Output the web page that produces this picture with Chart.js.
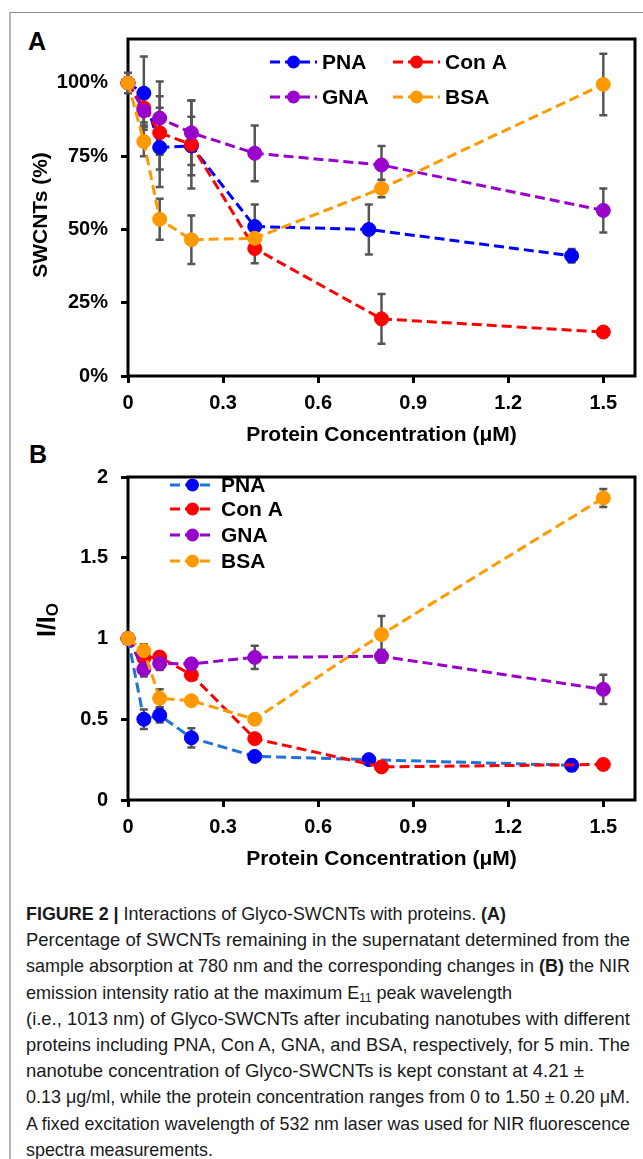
<!DOCTYPE html>
<html>
<head>
<meta charset="utf-8">
<title>Glyco-SWCNTs with proteins</title>
<script src="https://cdn.jsdelivr.net/npm/chart.js@4.4.1/dist/chart.umd.min.js"></script>
<style>
  html, body { margin: 0; padding: 0; background: #fff; }
  body { width: 643px; height: 1159px; position: relative; overflow: hidden; font-family: 'Liberation Sans', Arial, sans-serif; }
  .frame { position: absolute; left: 9px; top: 12px; width: 640px; height: 1160px; border-left: 2px solid #b4b4b4; border-top: 1px solid #8c8c8c; }
  .panel-label { position: absolute; font-weight: bold; font-size: 25px; line-height: 25px; color: #000; }
  #wrapA { position: absolute; left: 0; top: 0; width: 643px; height: 452px; }
  #wrapB { position: absolute; left: 0; top: 452px; width: 643px; height: 424px; }
  .caption { position: absolute; left: 26px; top: 901px; width: 604px; font-size: 18.5px; line-height: 26.2px; color: #1a1a1a; }
  .caption .ln { white-space: nowrap; height: 26.2px; transform-origin: 0 50%; }
  .caption b { font-weight: bold; }
  sub { font-size: 12px; line-height: 0; vertical-align: -3px; }
</style>
</head>
<body>
<div class="frame"></div>
<div class="panel-label" style="left:28px; top:29px;">A</div>
<div class="panel-label" style="left:29px; top:442px;">B</div>
<div id="wrapA"><canvas id="chartA"></canvas></div>
<div id="wrapB"><canvas id="chartB"></canvas></div>

<div class="caption">
  <div class="ln" data-w="480"><span><b>FIGURE 2 |</b> Interactions of Glyco-SWCNTs with proteins. <b>(A)</b></span></div>
  <div class="ln" data-w="604" data-j="1"><span>Percentage of SWCNTs remaining in the supernatant determined from the</span></div>
  <div class="ln" data-w="604" data-j="1"><span>sample absorption at 780 nm and the corresponding changes in <b>(B)</b> the NIR</span></div>
  <div class="ln" data-w="486"><span>emission intensity ratio at the maximum E<sub>11</sub> peak wavelength</span></div>
  <div class="ln" data-w="604" data-j="1"><span>(i.e., 1013 nm) of Glyco-SWCNTs after incubating nanotubes with different</span></div>
  <div class="ln" data-w="604" data-j="1"><span>proteins including PNA, Con A, GNA, and BSA, respectively, for 5 min. The</span></div>
  <div class="ln" data-w="558"><span>nanotube concentration of Glyco-SWCNTs is kept constant at 4.21 ±</span></div>
  <div class="ln" data-w="604" data-j="1"><span>0.13 μg/ml, while the protein concentration ranges from 0 to 1.50 ± 0.20 μM.</span></div>
  <div class="ln" data-w="604" data-j="1"><span>A fixed excitation wavelength of 532 nm laser was used for NIR fluorescence</span></div>
  <div class="ln" data-w="187"><span>spectra measurements.</span></div>
</div>

<script>
// protein concentration (µM); PNA was measured at slightly different points
const conc = [0, 0.05, 0.1, 0.2, 0.4, 0.8, 1.5];
const concPNA = [0, 0.05, 0.1, 0.2, 0.4, 0.76, 1.4];

const seriesNames = ['PNA', 'Con A', 'GNA', 'BSA'];

// panel A: SWCNTs remaining in supernatant (%)
const swcntPNA = [100, 96.5, 78, 78.5, 51, 50, 41];
const swcntConA = [100, 91.5, 83, 79, 43.5, 19.5, 15];
const swcntGNA = [100, 90.5, 88, 83, 76, 72, 56.5];
const swcntBSA = [100, 80, 53.5, 46.5, 47, 64, 99.5];
const swcntErrPNA = [3.5, 12.5, 13.5, 10, 7.5, 8.5, 2.3];
const swcntErrConA = [0, 5, 12.5, 15, 5, 8.5, 0];
const swcntErrGNA = [0, 5, 12.5, 11, 9.5, 6.5, 7.5];
const swcntErrBSA = [0, 5, 7, 8.3, 4, 3, 10.5];

// panel B: NIR emission intensity ratio I/Io
const ratioPNA = [1, 0.50, 0.525, 0.385, 0.27, 0.25, 0.215];
const ratioConA = [1, 0.88, 0.885, 0.775, 0.38, 0.205, 0.22];
const ratioGNA = [1, 0.81, 0.845, 0.843, 0.883, 0.89, 0.685];
const ratioBSA = [1, 0.925, 0.63, 0.615, 0.50, 1.025, 1.87];
const ratioErrPNA = [0, 0.06, 0.045, 0.06, 0.02, 0.02, 0.035];
const ratioErrConA = [0, 0.03, 0.03, 0.03, 0.02, 0.02, 0.02];
const ratioErrGNA = [0, 0.045, 0.04, 0.02, 0.072, 0.04, 0.09];
const ratioErrBSA = [0, 0.04, 0.055, 0.02, 0.02, 0.115, 0.055];

const markerColors = ['#0000FF', '#FF0000', '#9900CC', '#FF9900'];
const lineColorsA = ['#0000FF', '#FF0000', '#9900CC', '#FF9900'];
const lineColorsB = ['#1F72D6', '#FF0000', '#9900CC', '#FF9900'];

const FAMILY = "'Liberation Sans', Arial, sans-serif";
Chart.defaults.font.family = FAMILY;
Chart.defaults.color = '#000';

// black box around the plot area
const plotFrame = {
    id: 'plotFrame',
    beforeDatasetsDraw(chart) {
        const {ctx, chartArea: a} = chart;
        ctx.save();
        ctx.strokeStyle = '#000';
        ctx.lineWidth = 3;
        ctx.strokeRect(a.left, a.top, a.right - a.left, a.bottom - a.top);
        ctx.restore();
    }
};

// vertical error bars with caps, drawn under the markers
const errorBars = {
    id: 'errorBars',
    beforeDatasetsDraw(chart) {
        const {ctx, scales: {x, y}} = chart;
        ctx.save();
        ctx.strokeStyle = '#555';
        ctx.lineWidth = 2.5;
        chart.data.datasets.forEach(ds => {
            ds.data.forEach((p, i) => {
                const e = ds.errorBars[i];
                if (!e) return;
                const px = x.getPixelForValue(p.x);
                const top = y.getPixelForValue(p.y + e);
                const bot = y.getPixelForValue(p.y - e);
                ctx.beginPath();
                ctx.moveTo(px, top); ctx.lineTo(px, bot);
                ctx.moveTo(px - 4, top); ctx.lineTo(px + 4, top);
                ctx.moveTo(px - 4, bot); ctx.lineTo(px + 4, bot);
                ctx.stroke();
            });
        });
        ctx.restore();
    }
};

// legend entries as dashed line + marker, like the spreadsheet legend
const lineLegend = {
    id: 'lineLegend',
    afterDatasetsDraw(chart, args, opts) {
        const {ctx} = chart;
        ctx.save();
        chart.data.datasets.forEach((ds, i) => {
            const it = opts.items[i];
            ctx.setLineDash(ds.borderDash);
            ctx.lineWidth = ds.borderWidth;
            ctx.strokeStyle = ds.borderColor;
            ctx.beginPath();
            ctx.moveTo(it.x, it.y);
            ctx.lineTo(it.x + opts.sample, it.y);
            ctx.stroke();
            ctx.setLineDash([]);
            ctx.fillStyle = ds.pointBackgroundColor;
            ctx.beginPath();
            ctx.arc(it.x + opts.sample / 2, it.y, 6.5, 0, Math.PI * 2);
            ctx.fill();
            ctx.fillStyle = '#000';
            ctx.font = 'bold 21px ' + FAMILY;
            ctx.textAlign = 'left';
            ctx.textBaseline = 'middle';
            ctx.fillText(ds.label, it.x + opts.sample + opts.gap, it.y + 1);
        });
        ctx.restore();
    }
};

// rotated y title, with an optional subscript part
const sideTitle = {
    id: 'sideTitle',
    afterDraw(chart, args, o) {
        const {ctx} = chart;
        const main = 'bold ' + o.size + 'px ' + FAMILY;
        const small = 'bold ' + (o.subSize || o.size) + 'px ' + FAMILY;
        ctx.save();
        ctx.translate(o.x, o.y);
        ctx.rotate(-Math.PI / 2);
        ctx.fillStyle = '#000';
        ctx.textBaseline = 'middle';
        ctx.textAlign = 'left';
        ctx.font = main;
        const w1 = ctx.measureText(o.text).width;
        let w2 = 0;
        if (o.sub) {
            ctx.font = small;
            w2 = ctx.measureText(o.sub).width;
        }
        const start = -(w1 + w2) / 2;
        ctx.font = main;
        ctx.fillText(o.text, start, 0);
        if (o.sub) {
            ctx.font = small;
            ctx.fillText(o.sub, start + w1, o.subShift);
        }
        ctx.restore();
    }
};

function makeSets(values, errors, lineColors) {
    return seriesNames.map((name, k) => {
        const xs = k === 0 ? concPNA : conc;
        return {
            label: name,
            data: xs.map((x, i) => ({x: x, y: values[k][i]})),
            errorBars: errors[k],
            borderColor: lineColors[k],
            backgroundColor: markerColors[k],
            pointBackgroundColor: markerColors[k],
            pointBorderColor: markerColors[k],
            pointRadius: 7,
            pointHoverRadius: 7,
            pointBorderWidth: 1,
            borderWidth: 3,
            borderDash: [10, 5],
            tension: 0,
            fill: false,
            clip: false,
            order: seriesNames.length - k
        };
    });
}

function xAxis() {
    return {
        type: 'linear',
        min: 0,
        max: 1.6,
        ticks: {
            stepSize: 0.3,
            includeBounds: false,
            padding: 8,
            maxRotation: 0,
            autoSkip: false,
            font: {size: 20, weight: 'bold'},
            callback: v => String(+v.toFixed(1))
        },
        grid: {drawOnChartArea: false, drawTicks: true, tickLength: 7, tickWidth: 3, tickColor: '#000'},
        border: {display: false},
        title: {
            display: true,
            text: 'Protein Concentration (μM)',
            font: {size: 21, weight: 'bold'},
            padding: {top: 0, bottom: 4}
        },
        afterFit: s => { s.height = 76; }
    };
}

function yAxis(max, step, fmt) {
    return {
        type: 'linear',
        min: 0,
        max: max,
        ticks: {
            stepSize: step,
            includeBounds: false,
            padding: 13,
            font: {size: 20, weight: 'bold'},
            callback: fmt
        },
        grid: {drawOnChartArea: false, drawTicks: true, tickLength: 7, tickWidth: 3, tickColor: '#000'},
        border: {display: false},
        afterFit: s => { s.width = 128; }
    };
}

function buildChart(id, datasets, yScale, pad, legendOpts, titleOpts) {
    return new Chart(document.getElementById(id), {
        type: 'line',
        data: {datasets: datasets},
        options: {
            responsive: true,
            maintainAspectRatio: false,
            animation: false,
            events: [],
            layout: {padding: pad},
            scales: {x: xAxis(), y: yScale},
            plugins: {
                legend: {display: false},
                tooltip: {enabled: false},
                lineLegend: legendOpts,
                sideTitle: titleOpts
            }
        },
        plugins: [plotFrame, errorBars, lineLegend, sideTitle]
    });
}

buildChart('chartA',
    makeSets([swcntPNA, swcntConA, swcntGNA, swcntBSA],
             [swcntErrPNA, swcntErrConA, swcntErrGNA, swcntErrBSA], lineColorsA),
    yAxis(115, 25, v => v + '%'),
    {top: 39, right: 4, left: 0, bottom: 0},
    {sample: 47, gap: 5, items: [{x: 270, y: 62}, {x: 393, y: 62}, {x: 270, y: 97}, {x: 393, y: 97}]},
    {x: 41, y: 215, size: 21, text: 'SWCNTs (%)'});

buildChart('chartB',
    makeSets([ratioPNA, ratioConA, ratioGNA, ratioBSA],
             [ratioErrPNA, ratioErrConA, ratioErrGNA, ratioErrBSA], lineColorsB),
    yAxis(2, 0.5, v => String(v)),
    {top: 12, right: 4, left: 0, bottom: 0},
    {sample: 45, gap: 6, items: [{x: 170, y: 33}, {x: 170, y: 57}, {x: 170, y: 83}, {x: 170, y: 109}]},
    {x: 48, y: 168, size: 25, text: 'I/I', sub: 'O', subSize: 17, subShift: 5});

// fit caption lines to the widths of the printed lines
document.querySelectorAll('.caption .ln').forEach(el => {
    const span = el.firstElementChild;
    const target = +el.dataset.w;
    const w = span.getBoundingClientRect().width;
    if (el.dataset.j && w <= target) {
        el.style.width = target + 'px';
        el.style.textAlign = 'justify';
        el.style.textAlignLast = 'justify';
        el.style.whiteSpace = 'normal';
    } else if (el.dataset.j || w > target) {
        el.style.transform = 'scaleX(' + (target / w) + ')';
    }
});
</script>
</body>
</html>
